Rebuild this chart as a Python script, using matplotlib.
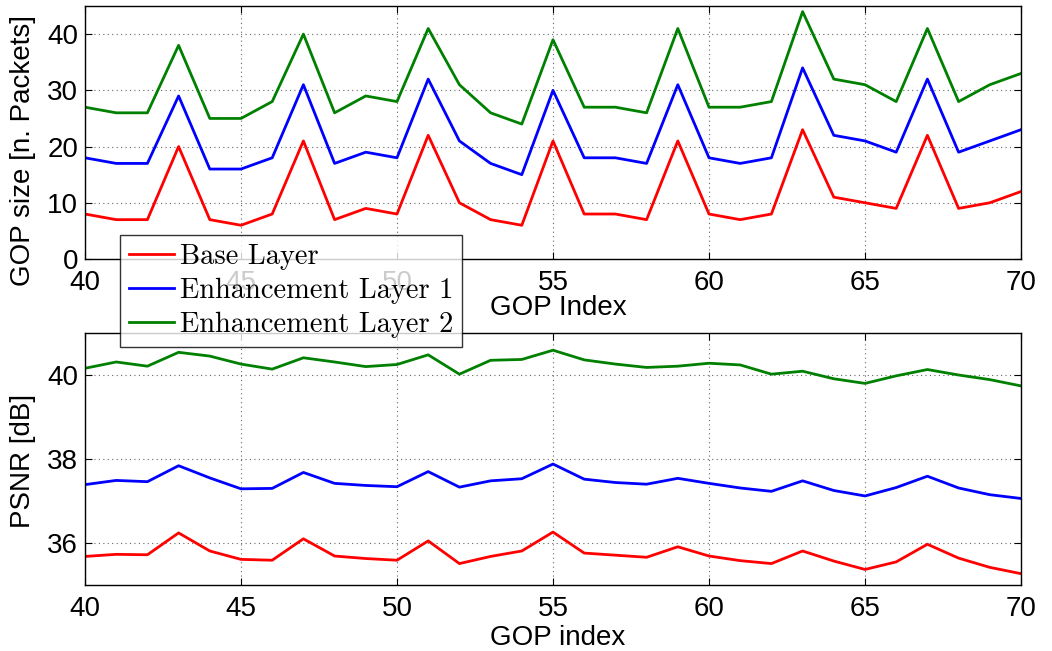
import matplotlib
matplotlib.use("Agg")
import matplotlib.pyplot as plt
import numpy as np

gop = list(range(40, 71))
base_size = [8, 7, 7, 20, 7, 6, 8, 21, 7, 9, 8, 22, 10, 7, 6, 21, 8, 8, 7, 21, 8, 7, 8, 23, 11, 10, 9, 22, 9, 10, 12]
el1_size = [18, 17, 17, 29, 16, 16, 18, 31, 17, 19, 18, 32, 21, 17, 15, 30, 18, 18, 17, 31, 18, 17, 18, 34, 22, 21, 19, 32, 19, 21, 23]
el2_size = [27, 26, 26, 38, 25, 25, 28, 40, 26, 29, 28, 41, 31, 26, 24, 39, 27, 27, 26, 41, 27, 27, 28, 44, 32, 31, 28, 41, 28, 31, 33]

base_psnr = [35.68, 35.73, 35.72, 36.24, 35.81, 35.61, 35.59, 36.10, 35.69, 35.63, 35.59, 36.05, 35.51, 35.68, 35.81,
             36.26, 35.76, 35.71, 35.66, 35.91, 35.69, 35.58, 35.51, 35.81, 35.57, 35.37, 35.55, 35.97, 35.64, 35.42, 35.27]
el1_psnr = [37.39, 37.49, 37.46, 37.84, 37.55, 37.29, 37.30, 37.68, 37.42, 37.37, 37.34, 37.70, 37.33, 37.48, 37.53,
            37.88, 37.52, 37.44, 37.40, 37.54, 37.42, 37.31, 37.23, 37.48, 37.25, 37.12, 37.32, 37.59, 37.31, 37.15, 37.06]
el2_psnr = [40.16, 40.31, 40.21, 40.54, 40.45, 40.26, 40.14, 40.41, 40.31, 40.20, 40.25, 40.48, 40.02, 40.35, 40.37,
            40.59, 40.36, 40.26, 40.18, 40.21, 40.28, 40.24, 40.02, 40.09, 39.91, 39.80, 39.98, 40.13, 40.00, 39.89, 39.74]

labels = ["Base Layer", "Enhancement Layer 1", "Enhancement Layer 2"]
colors = ["#ff0000", "#0000ff", "#008000"]
xticks = [40, 45, 50, 55, 60, 65, 70]

W, H = 1052, 651
fig = plt.figure(figsize=(W / 100, H / 100), dpi=100)

def px_axes(l, t, r, b):
    return fig.add_axes([l / W, 1 - b / H, (r - l) / W, (b - t) / H])

ax1 = px_axes(85, 6, 1021, 259)
ax2 = px_axes(85, 333, 1021, 585)

label_font = dict(family="Liberation Sans", size=20)

lines = []
for data, c, lab in zip([base_size, el1_size, el2_size], colors, labels):
    ln, = ax1.plot(gop, data, color=c, lw=2.0, label=lab)
    lines.append(ln)
for data, c in zip([base_psnr, el1_psnr, el2_psnr], colors):
    ax2.plot(gop, data, color=c, lw=2.0)

ax1.set_ylim(0, 45)
ax1.set_yticks([0, 10, 20, 30, 40])
ax2.set_ylim(35, 41)
ax2.set_yticks([36, 38, 40])

for ax in (ax1, ax2):
    ax.set_xlim(40, 70)
    ax.set_xticks(xticks)
    ax.grid(True, linestyle=(0, (1, 3)), color="#666666", linewidth=0.8)
    ax.tick_params(direction="in", length=5, width=0.8, top=True, right=True, labelsize=20, pad=8)
    ax.tick_params(axis="y", pad=5)
    for lab in ax.get_xticklabels() + ax.get_yticklabels():
        lab.set_fontfamily("Liberation Sans")
    for s in ax.spines.values():
        s.set_linewidth(1.0)

ax1.set_ylabel("GOP size [n. Packets]", **label_font)
ax1.yaxis.set_label_coords((22.5 - 85) / 936, (259 - 150) / 253)
ax1.yaxis.label.set_va("center")
ax2.set_ylabel("PSNR [dB]", **label_font)
ax2.yaxis.set_label_coords((22.5 - 85) / 936, (585 - 461) / 252)
ax2.yaxis.label.set_va("center")

ax1.set_xlabel("GOP Index", **label_font)
ax1.xaxis.set_label_coords((558 - 85) / 936, (259 - 315) / 253)
ax1.xaxis.label.set_va("baseline")
ax2.set_xlabel("GOP index", **label_font)
ax2.xaxis.set_label_coords((558 - 85) / 936, (585 - 645) / 252)
ax2.xaxis.label.set_va("baseline")

leg = fig.legend(lines, labels, loc="upper left", bbox_to_anchor=(120 / W, 1 - 235 / H),
                 prop=dict(family="cmr10", size=20.5), frameon=True, fancybox=False,
                 borderaxespad=0, handlelength=1.58, handletextpad=0.2, labelspacing=0.26,
                 borderpad=0.32)
leg.get_frame().set_edgecolor("black")
leg.get_frame().set_linewidth(1.0)
leg.set_zorder(10)

fig.savefig("out.png", dpi=100)
